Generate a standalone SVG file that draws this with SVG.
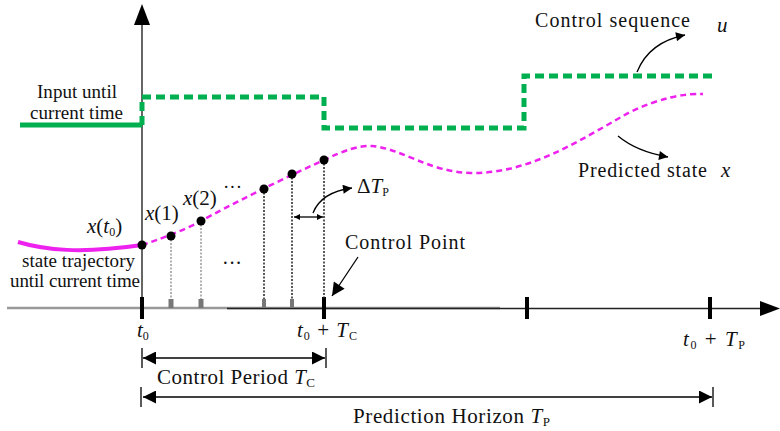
<svg xmlns="http://www.w3.org/2000/svg" width="780" height="431" viewBox="0 0 780 431">
<defs>
<marker id="ah" viewBox="0 0 10 10" refX="10" refY="5" markerWidth="12" markerHeight="9" markerUnits="userSpaceOnUse" orient="auto-start-reverse"><path d="M0,0 L10,5 L0,10 z" fill="#000"/></marker>
<marker id="ahs" viewBox="0 0 10 10" refX="10" refY="5" markerWidth="8" markerHeight="6" markerUnits="userSpaceOnUse" orient="auto-start-reverse"><path d="M0,0 L10,5 L0,10 z" fill="#000"/></marker>
<marker id="ahb" viewBox="0 0 10 10" refX="10" refY="5" markerWidth="18" markerHeight="13" markerUnits="userSpaceOnUse" orient="auto-start-reverse"><path d="M0,0 L10,5 L0,10 z" fill="#000"/></marker>
</defs>
<style>
text{font-family:"Liberation Serif","Times New Roman","DejaVu Serif",serif;fill:#111;}
.lbl{font-size:19px;}
.big{font-size:20px;}
.mt{font-size:21px;}
.m{font-style:italic;}
.tick{stroke:#000;stroke-width:4;}
.gtick{stroke:#777;stroke-width:5;}
.dot{fill:#000;}
.vg{stroke:#999;stroke-width:1.5;stroke-dasharray:2,1.5;}
.vk{stroke:#222;stroke-width:1.5;stroke-dasharray:2,1.5;}
.ln{stroke:#000;stroke-width:1.3;fill:none;}
</style>
<rect width="780" height="431" fill="#fff"/>
<g id="axes">
<line x1="142" y1="22" x2="142" y2="310" stroke="#333" stroke-width="1.5"/>
<path d="M134,25 L142,4 L150,25 z" fill="#000"/>
<line x1="7" y1="308" x2="500" y2="308" stroke="#999" stroke-width="2.5"/>
<line x1="227" y1="308.5" x2="765" y2="308.5" stroke="#222" stroke-width="1.5"/>
<path d="M760,301 L780,308.5 L760,316 z" fill="#000"/>
<line class="tick" x1="142" y1="297" x2="142" y2="319"/>
<line class="tick" x1="324" y1="297" x2="324" y2="319"/>
<line class="tick" x1="527" y1="297" x2="527" y2="319"/>
<line class="tick" x1="710" y1="297" x2="710" y2="319"/>
<line class="gtick" x1="171" y1="299" x2="171" y2="308"/>
<line class="gtick" x1="201" y1="299" x2="201" y2="308"/>
<line class="gtick" x1="264" y1="299" x2="264" y2="308" style="stroke-width:4"/>
<line class="gtick" x1="292" y1="299" x2="292" y2="308" style="stroke-width:4"/>
</g>
<g id="input">
<line x1="20" y1="125" x2="142" y2="125" stroke="#00b050" stroke-width="5"/>
<path d="M142,125 L142,97 L324,97 L324,128 L524,128 L524,76 L715,76" fill="none" stroke="#00b050" stroke-width="5" stroke-dasharray="9,5"/>
</g>
<g id="state">
<path d="M18,242 C45,250 80,254 142,245" fill="none" stroke="#ee22ee" stroke-width="4"/>
<path d="M142,245 C155,241 185,230 201,221 C230,205 280,180 324,160 C345,150 360,145 372,146 C400,148 430,172 470,173 C530,174 580,140 630,112 C660,98 685,93 703,94" fill="none" stroke="#ee22ee" stroke-width="2.5" stroke-dasharray="6,4"/>
</g>
<g id="samples">
<line class="vg" x1="171" y1="236" x2="171" y2="299"/>
<line class="vg" x1="201" y1="221" x2="201" y2="299"/>
<line class="vk" x1="264" y1="189" x2="264" y2="299"/>
<line class="vk" x1="292" y1="174" x2="292" y2="299"/>
<line class="vk" x1="324" y1="160" x2="324" y2="299"/>
<circle class="dot" cx="142" cy="245" r="4.5"/>
<circle class="dot" cx="171" cy="236" r="4.5"/>
<circle class="dot" cx="201" cy="221" r="4.5"/>
<circle class="dot" cx="264" cy="189" r="4.5"/>
<circle class="dot" cx="292" cy="174" r="4.5"/>
<circle class="dot" cx="324" cy="160" r="4.5"/>
</g>
<g id="connectors">
<path class="ln" d="M637,72 C645,52 660,40 685,35" marker-end="url(#ah)"/>
<path class="ln" d="M618,136 C630,146 645,153 668,157" marker-end="url(#ah)"/>
<path class="ln" d="M313,213 C318,200 330,191 352,188" marker-end="url(#ah)"/>
<line class="ln" x1="294" y1="217" x2="323" y2="217" marker-start="url(#ahs)" marker-end="url(#ahs)"/>
<line class="ln" x1="358" y1="257" x2="332" y2="296" marker-end="url(#ahb)"/>
<line class="ln" x1="143" y1="358" x2="325" y2="358" marker-start="url(#ahb)" marker-end="url(#ahb)"/>
<line class="ln" x1="142" y1="348" x2="142" y2="368"/>
<line class="ln" x1="326" y1="348" x2="326" y2="368"/>
<line class="ln" x1="143" y1="397" x2="712" y2="397" marker-start="url(#ahb)" marker-end="url(#ahb)"/>
<line class="ln" x1="141" y1="387" x2="141" y2="407"/>
<line class="ln" x1="713" y1="387" x2="713" y2="407"/>
</g>
<g id="labels" font-family="Liberation Serif, serif">
<text class="lbl" x="37" y="98" textLength="80">Input until</text>
<text class="lbl" x="30" y="119" textLength="93">current time</text>
<text class="big" x="535" y="27" textLength="155">Control sequence</text>
<text class="mt m" x="717" y="32">u</text>
<text class="big" x="578" y="177" textLength="129">Predicted state</text>
<text class="mt m" x="721" y="177">x</text>
<text class="mt" x="357" y="193"><tspan>Δ</tspan><tspan class="m">T</tspan><tspan font-size="12" dy="3">P</tspan></text>
<text class="mt" x="87" y="233"><tspan class="m">x</tspan>(<tspan class="m">t</tspan><tspan font-size="12" dy="3">0</tspan><tspan dy="-3">)</tspan></text>
<text class="mt" x="145" y="220"><tspan class="m">x</tspan>(1)</text>
<text class="mt" x="183" y="205"><tspan class="m">x</tspan>(2)</text>
<text class="lbl" x="223" y="193">···</text>
<text class="big" x="222" y="270">···</text>
<text class="lbl" x="22" y="267" textLength="113">state trajectory</text>
<text class="lbl" x="10" y="287" textLength="130">until current time</text>
<text class="big" x="345" y="249" textLength="120">Control Point</text>
<text class="mt" x="137" y="337"><tspan class="m">t</tspan><tspan font-size="12" dy="3">0</tspan></text>
<text class="mt" x="297" y="337" textLength="60"><tspan class="m">t</tspan><tspan font-size="12" dy="3">0</tspan><tspan dy="-3"> + </tspan><tspan class="m">T</tspan><tspan font-size="12" dy="3">C</tspan></text>
<text class="mt" x="683" y="346" textLength="62"><tspan class="m">t</tspan><tspan font-size="12" dy="3">0</tspan><tspan dy="-3"> + </tspan><tspan class="m">T</tspan><tspan font-size="12" dy="3">P</tspan></text>
<text class="mt" x="157" y="384" textLength="158">Control Period <tspan class="m">T</tspan><tspan font-size="13" dy="3">C</tspan></text>
<text class="mt" x="353" y="423" textLength="197">Prediction Horizon <tspan class="m">T</tspan><tspan font-size="13" dy="3">P</tspan></text>
</g>
</svg>
